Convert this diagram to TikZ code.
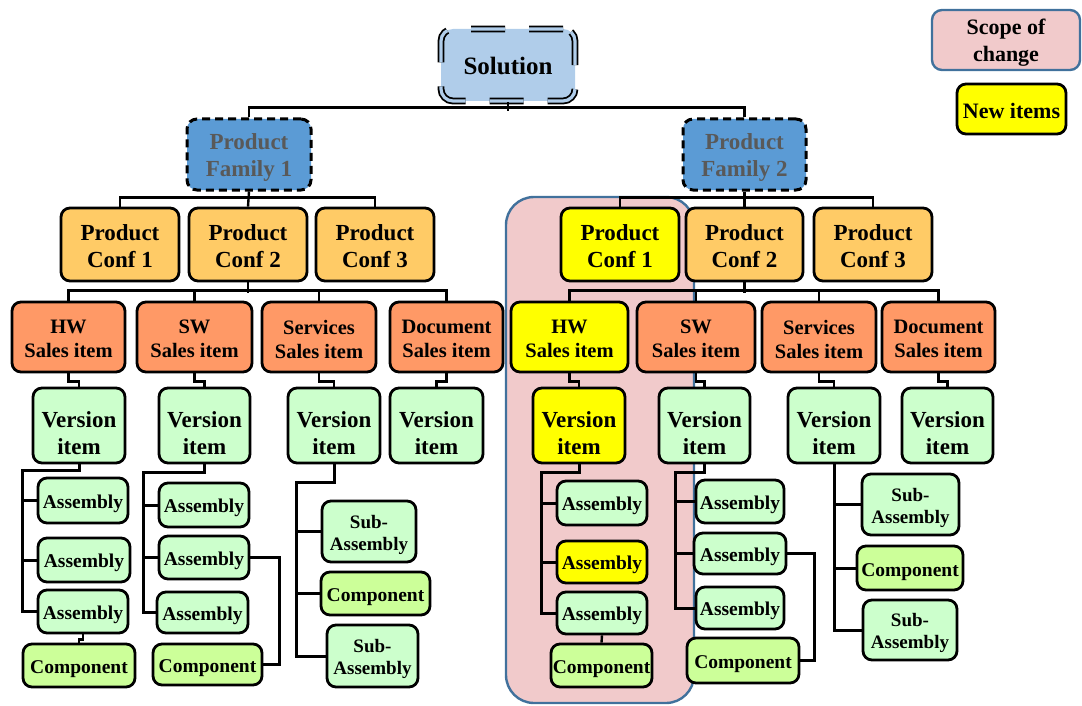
\documentclass[tikz,border=0pt]{standalone}
\usepackage{fontspec}
\setmainfont{Liberation Serif}
\usetikzlibrary{calc}

\definecolor{solfill}{RGB}{176,205,234}
\definecolor{famfill}{RGB}{91,155,213}
\definecolor{famtext}{RGB}{89,89,89}
\definecolor{conffill}{RGB}{255,203,102}
\definecolor{salesfill}{RGB}{255,153,102}
\definecolor{verfill}{RGB}{204,255,204}
\definecolor{cmpfill}{RGB}{204,255,153}
\definecolor{newfill}{RGB}{255,255,0}
\definecolor{scopefill}{RGB}{241,202,203}
\definecolor{scopeline}{RGB}{65,113,156}

\newcommand{\setfs}[2]{\fontsize{#1}{#2}\selectfont\bfseries}
% vertical offset of a box's label, set by each box style
\def\tdyval{0}
\tikzset{tdy/.code={\def\tdyval{#1}}}
% box given by its corners: name, x1, y1, x2, y2, style, text
\newcommand{\placebox}[7]{%
  \node[#6, minimum width={(#4)-(#2)}, minimum height={(#5)-(#3)}] (#1) at ({((#2)+(#4))/2},{((#3)+(#5))/2}) {};
  \node[#6, draw=none, fill=none, minimum width=0pt, minimum height=0pt, shift={(0,\tdyval)}] (#1-t) at (#1.center) {#7};}

\begin{document}
\begin{tikzpicture}[x=1pt,y=-1pt,
  item/.style={draw=black, line width=2.8, rounded corners=9, inner sep=0pt, align=center, text=black, tdy=3},
  solbox/.style={fill=solfill, draw=black, double=solfill, double distance=3.2, line width=1.8,
    dash pattern=on 34 off 24, rounded corners=12, inner sep=0pt, align=center, font=\setfs{25}{30}, tdy=1},
  fambox/.style={fill=famfill, draw=black, line width=3, dash pattern=on 8 off 5, rounded corners=10,
    inner sep=0pt, align=center, text=famtext, font=\setfs{23}{27}, tdy=3},
  confbox/.style={item, fill=conffill, font=\setfs{23}{27}, tdy=1.5},
  salesbox/.style={item, fill=salesfill, font=\setfs{20.5}{24}, tdy=2},
  verbox/.style={item, fill=verfill, font=\setfs{23}{27}, tdy=8},
  asmbox/.style={item, fill=verfill, font=\setfs{19.5}{22}, tdy=3},
  subbox/.style={item, fill=verfill, font=\setfs{19}{22}, tdy=3},
  cmpbox/.style={item, fill=cmpfill, font=\setfs{19.5}{22}, tdy=4},
  newbox/.style={fill=newfill},
  scopebox/.style={fill=scopefill, draw=scopeline, line width=2.4},
  conn/.style={draw=black, line width=2.4},
  trunk/.style={draw=black, line width=3}
]
\useasboundingbox (0,0) rectangle (1082,706);

% scope of change region behind the first configuration branch
\draw[scopebox, rounded corners=28] (506,197) rectangle (694,703);

% legend
\placebox{lgscope}{932}{10}{1080}{70}{scopebox, rounded corners=10, inner sep=0pt, align=center, font=\setfs{22}{27}, tdy=3}{Scope of\\change}
\placebox{lgnew}{957}{84}{1066}{134}{item, newbox, font=\setfs{22}{26}, tdy=2}{New items}

% top levels
\placebox{sol}{441}{29}{575}{101}{solbox}{Solution}
\placebox{pfA}{187}{119}{311}{190}{fambox}{Product\\Family 1}
\placebox{pfB}{683}{119}{806}{190}{fambox}{Product\\Family 2}

\placebox{lcA}{61}{208}{179}{281}{confbox}{Product\\Conf 1}
\placebox{lcB}{189}{208}{307}{281}{confbox}{Product\\Conf 2}
\placebox{lcC}{316}{208}{434}{281}{confbox}{Product\\Conf 3}
\placebox{rcA}{561}{208}{679}{281}{confbox, newbox}{Product\\Conf 1}
\placebox{rcB}{686}{208}{803}{281}{confbox}{Product\\Conf 2}
\placebox{rcC}{814}{208}{932}{281}{confbox}{Product\\Conf 3}

% sales items
\placebox{lsHW}{12}{302}{125}{372}{salesbox}{HW\\Sales item}
\placebox{lsSW}{137}{302}{252}{372}{salesbox}{SW\\Sales item}
\placebox{lsSV}{262}{302}{376}{372}{salesbox}{Services\\Sales item}
\placebox{lsDC}{390}{302}{503}{372}{salesbox}{Document\\Sales item}
\placebox{rsHW}{511}{302}{628}{372}{salesbox, newbox}{HW\\Sales item}
\placebox{rsSW}{637}{302}{755}{372}{salesbox}{SW\\Sales item}
\placebox{rsSV}{762}{302}{876}{372}{salesbox}{Services\\Sales item}
\placebox{rsDC}{882}{302}{995}{372}{salesbox}{Document\\Sales item}

% version items
\placebox{lvHW}{33}{388}{125}{463}{verbox}{Version\\item}
\placebox{lvSW}{159}{388}{250}{463}{verbox}{Version\\item}
\placebox{lvSV}{288}{388}{380}{463}{verbox}{Version\\item}
\placebox{lvDC}{390}{388}{483}{463}{verbox}{Version\\item}
\placebox{rvHW}{533}{388}{625}{463}{verbox, newbox}{Version\\item}
\placebox{rvSW}{659}{388}{750}{463}{verbox}{Version\\item}
\placebox{rvSV}{788}{388}{880}{463}{verbox}{Version\\item}
\placebox{rvDC}{902}{388}{993}{463}{verbox}{Version\\item}

% left HW structure
\placebox{laHW1}{38}{478}{128}{523}{asmbox}{Assembly}
\placebox{laHW2}{38}{538}{130}{582}{asmbox}{Assembly}
\placebox{laHW3}{38}{590}{128}{633}{asmbox}{Assembly}
\placebox{lcpHW}{23}{644}{135}{687}{cmpbox}{Component}
% left SW structure
\placebox{laSW1}{159}{483}{249}{527}{asmbox}{Assembly}
\placebox{laSW2}{159}{536}{249}{579}{asmbox}{Assembly}
\placebox{laSW3}{157}{592}{248}{633}{asmbox}{Assembly}
\placebox{lcpSW}{153}{644}{262}{685}{cmpbox}{Component}
% left services structure
\placebox{lsbSV1}{322}{501}{416}{562}{subbox}{Sub-\\Assembly}
\placebox{lcpSV}{321}{572}{430}{615}{cmpbox}{Component}
\placebox{lsbSV2}{327}{625}{418}{687}{subbox}{Sub-\\Assembly}
% right HW structure
\placebox{raHW1}{557}{481}{647}{525}{asmbox}{Assembly}
\placebox{raHW2}{557}{541}{647}{583}{asmbox, newbox}{Assembly}
\placebox{raHW3}{557}{592}{647}{634}{asmbox}{Assembly}
\placebox{rcpHW}{551}{644}{652}{687}{cmpbox}{Component}
% right SW structure
\placebox{raSW1}{696}{480}{784}{523}{asmbox}{Assembly}
\placebox{raSW2}{694}{533}{786}{574}{asmbox}{Assembly}
\placebox{raSW3}{696}{587}{784}{629}{asmbox}{Assembly}
\placebox{rcpSW}{687}{638}{799}{683}{cmpbox}{Component}
% right services structure
\placebox{rsbSV1}{862}{474}{959}{535}{subbox}{Sub-\\Assembly}
\placebox{rcpSV}{857}{546}{963}{590}{cmpbox}{Component}
\placebox{rsbSV2}{863}{600}{957}{660}{subbox}{Sub-\\Assembly}

% solution to families
\draw[conn] (sol.south) -- ++(0,9);
\draw[conn] (pfA.north) -- ++(0,-10) -| (pfB.north);
% families to configurations
\draw[conn] (lcA.north) -- ++(0,-9) -| (lcC.north);
\draw[conn] (pfA.south) -- (lcB.north);
\draw[conn] (rcA.north) -- ++(0,-9) -| (rcC.north);
\draw[conn] (pfB.south) -- (rcB.north);
% configuration 2 to sales items
\draw[conn] (lsHW.north) -- ++(0,-10) -| (lsDC.north);
\draw[conn] (lcB.south) -- ++(0,11);
\draw[conn] (lsSW.north) -- ++(0,-10);
\draw[conn] (lsSV.north) -- ++(0,-10);
\draw[conn] (rsHW.north) -- ++(0,-10) -| (rsDC.north);
\draw[conn] (rcB.south) -- ++(0,11);
\draw[conn] (rsSW.north) -- ++(0,-10);
\draw[conn] (rsSV.north) -- ++(0,-10);
% sales items to version items
\foreach \s/\v in {lsHW/lvHW, lsSW/lvSW, lsSV/lvSV, lsDC/lvDC, rsHW/rvHW, rsSW/rvSW, rsSV/rvSV, rsDC/rvDC}
  \draw[conn] (\s.south) -- ++(0,8) -| (\v.north);

% left HW
\coordinate (tA) at (22,470);
\draw[trunk] (lvHW.south) |- (tA) |- (laHW3.west);
\draw[trunk] (tA |- laHW1.west) -- (laHW1.west);
\draw[trunk] (tA |- laHW2.west) -- (laHW2.west);
\draw[conn] (laHW3.south) -- ++(0,5) -| (lcpHW.north);
% left SW
\coordinate (tB) at (143,472);
\draw[trunk] (lvSW.south) |- (tB) |- (laSW3.west);
\draw[trunk] (tB |- laSW1.west) -- (laSW1.west);
\draw[trunk] (tB |- laSW2.west) -- (laSW2.west);
\draw[conn] (laSW2.east) -- ++(29,0) |- (lcpSW.east);
% left services
\coordinate (tC) at (296,482);
\draw[trunk] (lvSV.south) |- (tC) |- (lsbSV2.west);
\draw[trunk] (tC |- lsbSV1.west) -- (lsbSV1.west);
\draw[trunk] (tC |- lcpSV.west) -- (lcpSV.west);
% right HW
\coordinate (tD) at (541,472);
\draw[trunk] (rvHW.south) |- (tD) |- (raHW3.west);
\draw[trunk] (tD |- raHW1.west) -- (raHW1.west);
\draw[trunk] (tD |- raHW2.west) -- (raHW2.west);
\draw[conn] (raHW3.south) -- (rcpHW.north);
% right SW
\coordinate (tE) at (675,472);
\draw[trunk] (rvSW.south) |- (tE) |- (raSW3.west);
\draw[trunk] (tE |- raSW1.west) -- (raSW1.west);
\draw[trunk] (tE |- raSW2.west) -- (raSW2.west);
\draw[conn] (raSW2.east) -- ++(27,0) |- (rcpSW.east);
% right services
\draw[trunk] (rvSV.south) |- (rsbSV2.west);
\draw[trunk] (rvSV.south |- rsbSV1.west) -- (rsbSV1.west);
\draw[trunk] (rvSV.south |- rcpSV.west) -- (rcpSV.west);
\end{tikzpicture}
\end{document}
